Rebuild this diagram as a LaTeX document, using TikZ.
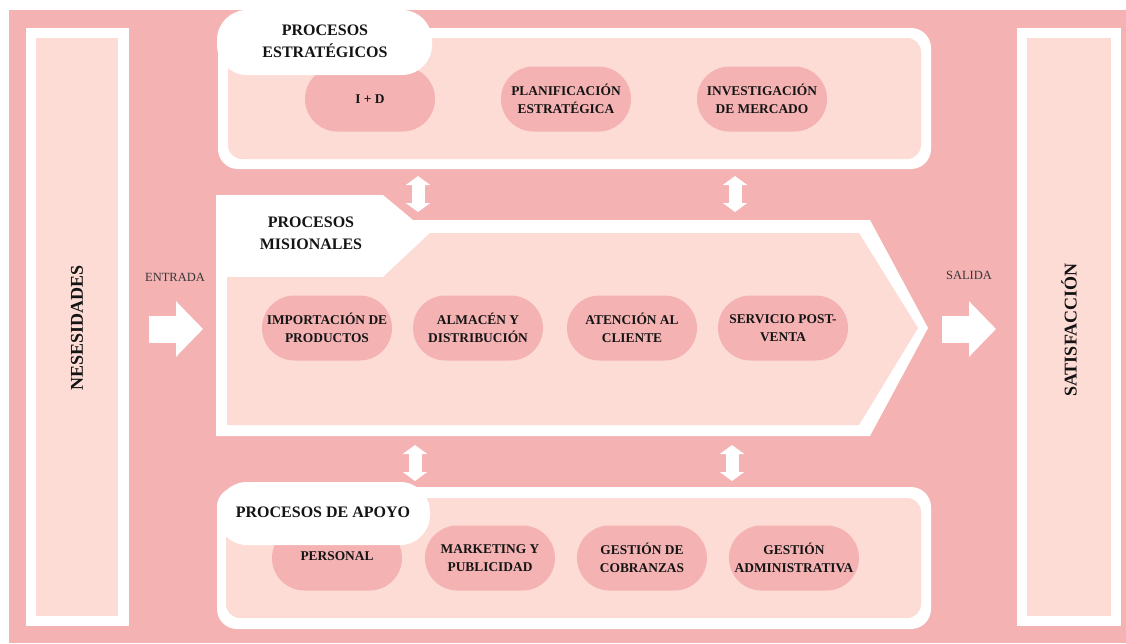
\documentclass[tikz,border=0pt]{standalone}
\usepackage{fontspec}
\setmainfont{Liberation Serif}
\usetikzlibrary{shapes.misc,arrows.meta}
\definecolor{bgpink}{HTML}{F4B2B3}
\definecolor{lightpink}{HTML}{FDDCD6}
\definecolor{nodepink}{HTML}{F4B2B3}
\definecolor{txt}{HTML}{141414}
\tikzset{
  proc/.style={rounded rectangle, fill=nodepink, minimum width=130pt, minimum height=65pt,
    inner sep=0pt, align=center, text=txt, font=\bfseries\fontsize{13.4}{18}\selectfont},
  ptitle/.style={align=center, text=txt, font=\bfseries\fontsize{16}{22}\selectfont},
  sidetitle/.style={rotate=90, text=txt, font=\bfseries\fontsize{18}{22}\selectfont},
  flowlabel/.style={text=txt!85, font=\fontsize{12.5}{15}\selectfont},
  biarrow/.style={draw=white, line width=13pt, {Triangle[width=24pt,length=9pt]}-{Triangle[width=24pt,length=9pt]}},
  blockarrow/.style={draw=white, line width=27pt, -{Triangle[width=54pt,length=27pt]}},
  whitebox/.style={fill=white, rounded corners=20pt},
  lightbox/.style={fill=lightpink, rounded corners=14pt},
  tab/.style={fill=white, rounded corners=30pt}
}
\begin{document}
\begin{tikzpicture}[x=1pt,y=-1pt]
\useasboundingbox (0,0) rectangle (1126,643);
% background
\fill[bgpink] (9,10) rectangle (1126,643);
% side columns
\fill[white] (26,28) rectangle (129,626);
\fill[lightpink] (36,38) rectangle (118,616);
\node[sidetitle] (nes) at (77,328) {NESESIDADES};
\fill[white] (1017,28) rectangle (1121,626);
\fill[lightpink] (1027,38) rectangle (1111,616);
\node[sidetitle] (sat) at (1069,330) {SATISFACCIÓN};

% strategic box
\fill[whitebox] (218,28) rectangle (931,169);
\fill[lightbox] (228,38) rectangle (921,159);
\node[proc] (id) at (370,99) {I + D};
\node[proc] (plan) at (566,99) {PLANIFICACIÓN\\ESTRATÉGICA};
\node[proc] (inv) at (762,99) {INVESTIGACIÓN\\DE MERCADO};
\fill[tab] (217,10) rectangle (432,75);
\node[ptitle] (est) at (325,41) {PROCESOS\\ESTRATÉGICOS};

% misional box
\fill[white] (216,195) -- (383,195) -- (413,220) -- (870,220) -- (928,328) -- (870,436) -- (216,436) -- cycle;
\fill[lightpink] (227,277) -- (383,277) -- (430,233) -- (859,233) -- (918,328) -- (859,425) -- (227,425) -- cycle;
\node[ptitle] (mis) at (311,233) {PROCESOS\\MISIONALES};
\node[proc] (imp) at (327,328) {IMPORTACIÓN DE\\PRODUCTOS};
\node[proc] (alm) at (478,328) {ALMACÉN Y\\DISTRIBUCIÓN};
\node[proc] (ate) at (632,328) {ATENCIÓN AL\\CLIENTE};
\node[proc] (ser) at (783,328) {SERVICIO POST-\\VENTA};

% apoyo box
\fill[whitebox] (217,487) rectangle (931,629);
\fill[lightbox] (226,498) rectangle (921,618);
\node[proc] (per) at (337,558) {};
\node[text=txt, font=\bfseries\fontsize{13.4}{18}\selectfont] (pert) at (337,556) {PERSONAL};
\node[proc] (mar) at (490,558) {MARKETING Y\\PUBLICIDAD};
\node[proc] (cob) at (642,558) {GESTIÓN DE\\COBRANZAS};
\node[proc] (adm) at (794,558) {GESTIÓN\\ADMINISTRATIVA};
\fill[tab] (217,482) rectangle (430,545);
\node[ptitle] (apo) at (323,512) {PROCESOS DE APOYO};

% double arrows
\coordinate (u1a) at (418,176); \coordinate (u1b) at (418,212);
\coordinate (u2a) at (735,176); \coordinate (u2b) at (735,212);
\coordinate (d1a) at (415,445); \coordinate (d1b) at (415,481);
\coordinate (d2a) at (732,445); \coordinate (d2b) at (732,481);
\draw[biarrow] (u1a) -- (u1b);
\draw[biarrow] (u2a) -- (u2b);
\draw[biarrow] (d1a) -- (d1b);
\draw[biarrow] (d2a) -- (d2b);

% entrada / salida
\node[flowlabel] (ent) at (175,277) {ENTRADA};
\coordinate (ea) at (149,329); \coordinate (eb) at (203,329);
\draw[blockarrow] (ea) -- (eb);
\node[flowlabel] (sal) at (969,275) {SALIDA};
\coordinate (sa) at (942,329); \coordinate (sb) at (996,329);
\draw[blockarrow] (sa) -- (sb);
\end{tikzpicture}
\end{document}
